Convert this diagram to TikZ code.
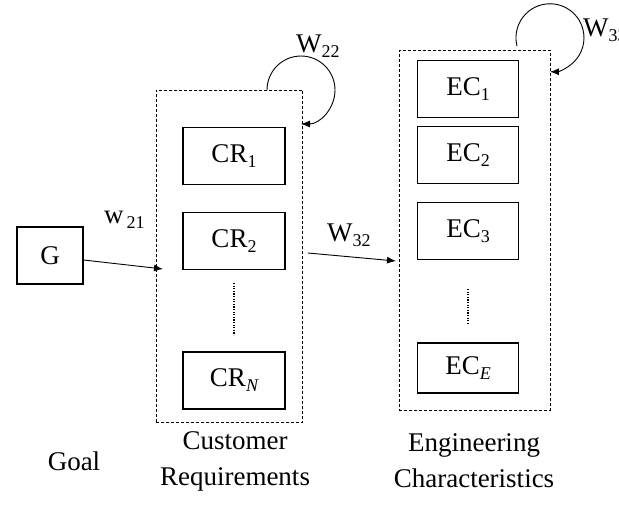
\documentclass[tikz,border=0pt]{standalone}
\usepackage{fontspec}
\setmainfont{Liberation Serif}
\usetikzlibrary{arrows.meta}
% lowered, smaller index text
\newcommand\lowsub[1]{\raisebox{-5pt}{\fontsize{18}{18}\selectfont #1}}

\begin{document}
\begin{tikzpicture}[x=1pt, y=-1pt,
  font=\fontsize{27}{36}\selectfont,
  box/.style={draw, line width=1.2pt, inner sep=0pt,
              minimum width=102pt, minimum height=57pt},
  grp/.style={draw, line width=0.9pt, dash pattern=on 3pt off 2pt, inner sep=0pt},
  arr/.style={-{Latex[length=9pt,width=7pt]}, line width=0.9pt},
  dotline/.style={line width=1.4pt, dash pattern=on 1.2pt off 1.4pt},
  lbl/.style={inner sep=0pt, anchor=base west}]
\useasboundingbox (0,0) rectangle (619,504);
\clip (0,0) rectangle (619,504);

% goal
\node[box, minimum width=66pt] (G) at (50,255.5) {G};

% customer requirements group
\node[grp, minimum width=146.7pt, minimum height=332.7pt] (crgrp) at (229.35,256.35) {};
\node[box] (cr1) at (234,156) {CR\lowsub{1}};
\node[box] (cr2) at (234,241) {CR\lowsub{2}};
\node[box] (crn) at (234,380.5) {CR\lowsub{\itshape N}};
\coordinate (crdotA) at (234,283);
\coordinate (crdotB) at (234,335);
\draw[dotline] (crdotA) -- (crdotB);

% engineering characteristics group
\node[grp, minimum width=150.7pt, minimum height=360pt] (ecgrp) at (474.65,230) {};
\node[box, minimum width=101pt] (ec1) at (468,89) {EC\lowsub{1}};
\node[box, minimum width=101pt] (ec2) at (468,155.3) {EC\lowsub{2}};
\node[box, minimum width=101pt] (ec3) at (468,231.3) {EC\lowsub{3}};
\node[box, minimum width=101pt, minimum height=50pt] (ece) at (468,368) {EC\lowsub{\itshape E}};
\coordinate (ecdotA) at (468,289);
\coordinate (ecdotB) at (468,323);
\draw[dotline] (ecdotA) -- (ecdotB);

% weight from goal to requirements
\coordinate (w21end) at (163,269);
\draw[arr] ([yshift=-4.5pt]G.east) -- (w21end);
\node[lbl] (w21) at (104,223) {w\hspace{3pt}\lowsub{21}};

% weight from requirements to characteristics
\coordinate (w32start) at (308,253);
\coordinate (w32end) at (396,261);
\draw[arr] (w32start) -- (w32end);
\node[lbl] (w32) at (327,241) {W\lowsub{32}};

% self loops
\coordinate (l22) at (267,90);
\draw[arr] (l22) arc[start angle=180, end angle=450, radius=34];
\node[lbl] (w22) at (296,52) {W\lowsub{22}};

\coordinate (l33) at (517,46);
\draw[arr] (l33) arc[start angle=166, end angle=450, radius=34];
\node[lbl] (w33) at (583,36) {W\lowsub{33}};

% captions
\node[align=center] (goal) at (74,461) {Goal};
\node[align=center] (crcap) at (235,461) {Customer\\Requirements};
\node[align=center] (eccap) at (474,461) {Engineering\\Characteristics};
\end{tikzpicture}
\end{document}
